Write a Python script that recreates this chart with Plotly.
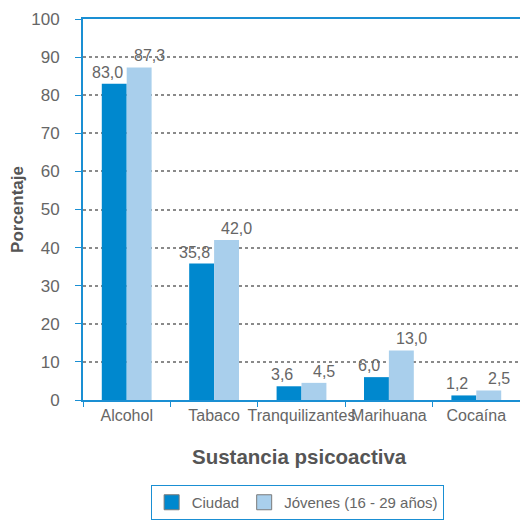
import plotly.graph_objects as go

categories = ["Alcohol", "Tabaco", "Tranquilizantes", "Marihuana", "Cocaína"]
ciudad = [83.0, 35.8, 3.6, 6.0, 1.2]
jovenes = [87.3, 42.0, 4.5, 13.0, 2.5]
series_names = ["Ciudad", "Jóvenes (16 - 29 años)"]
y_ticks = [0, 10, 20, 30, 40, 50, 60, 70, 80, 90, 100]

dark_blue = "#0088ce"
light_blue = "#a9cfec"
axis_blue = "#1a8fd3"
text_gray = "#666666"
font_family = "Liberation Sans, Arial, sans-serif"

BAR_PX = 25  # half of a category group's bar span, in pixels

fig = go.Figure()
annotations = []
for idx, (name, vals, col, shift) in enumerate([
        (series_names[0], ciudad, dark_blue, -BAR_PX / 2 - 7),
        (series_names[1], jovenes, light_blue, BAR_PX / 2 + 10)]):
    fig.add_trace(go.Bar(
        x=categories, y=vals, name=name,
        marker=dict(color=col, line=dict(width=0)),
        showlegend=False, hoverinfo="x+y",
    ))
    # value labels, nudged outward from each bar pair
    for cat, v in zip(categories, vals):
        annotations.append(dict(
            x=cat, y=v, xref="x", yref="y", text=f"{v:.1f}".replace(".", ","),
            xshift=shift, yshift=1, xanchor="center", yanchor="bottom",
            showarrow=False,
            font=dict(size=16, color=text_gray, family=font_family),
        ))
    # legend swatch with a gray outline
    fig.add_trace(go.Scatter(
        x=[None], y=[None], mode="markers", name=name,
        marker=dict(symbol="square", size=15, color=col,
                    line=dict(color="#7a7a7a", width=1)),
    ))

annotations.append(dict(
    text="<b>Sustancia psicoactiva</b>", xref="paper", yref="paper",
    x=0.495, y=-0.149, xanchor="center", yanchor="middle", showarrow=False,
    font=dict(size=20.5, color="#555555", family=font_family),
))

fig.update_layout(
    width=520, height=520,
    margin=dict(l=83, r=0, t=19, b=119),
    paper_bgcolor="white", plot_bgcolor="white",
    separators=",.",
    barmode="group", bargap=0.43, bargroupgap=0,
    font=dict(family=font_family, color=text_gray, size=15),
    showlegend=True,
    legend=dict(
        orientation="h", x=0.49, xanchor="center", y=-0.222, yanchor="top",
        bordercolor=axis_blue, borderwidth=1,
        font=dict(size=15, color=text_gray, family=font_family),
        tracegroupgap=0,
    ),
    annotations=annotations,
)

fig.update_xaxes(
    type="category",
    showline=True, linecolor=axis_blue, linewidth=2, mirror=True,
    ticks="outside", tickson="boundaries", ticklen=5, tickcolor=axis_blue,
    tickangle=0,
    tickfont=dict(size=16, color=text_gray),
    showgrid=False,
)
fig.update_yaxes(
    range=[0, 100], tickvals=y_ticks,
    showline=True, linecolor=axis_blue, linewidth=2,
    ticks="outside", ticklen=6, tickcolor=axis_blue,
    ticklabelstandoff=12,
    tickfont=dict(size=17, color=text_gray),
    showgrid=True, gridcolor="#8a8a8a", gridwidth=1.5, griddash="dot",
    zeroline=False,
    title=dict(text="<b>Porcentaje</b>", standoff=3,
               font=dict(size=17, color="#555555")),
)

fig.write_html("out.html")
